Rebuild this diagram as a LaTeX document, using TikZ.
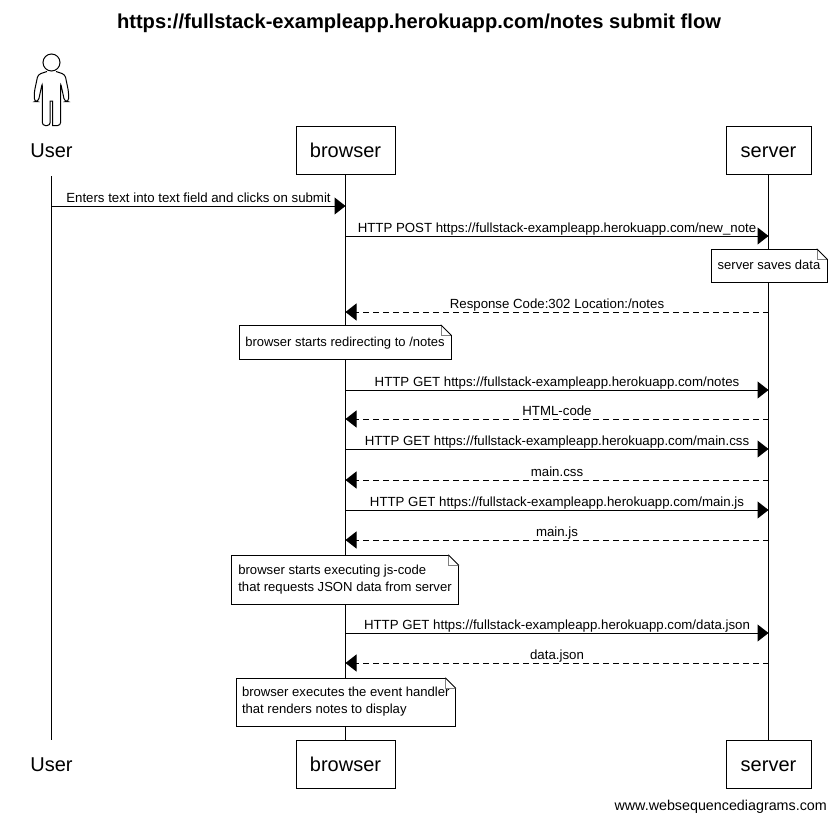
\documentclass[tikz,border=0pt]{standalone}
\usepackage{fontspec}
\setmainfont{Liberation Sans}
\usetikzlibrary{arrows.meta}
\tikzset{
    headtext/.style={inner sep=0pt, text height=17pt, text depth=3pt, font=\fontsize{20}{24}\selectfont},
    headbox/.style={headtext, draw, fill=white, line width=1pt, outer sep=0pt, minimum height=48pt},
    lifeline/.style={line width=1pt},
    msg/.style={line width=1pt, -{Triangle[length=11pt,width=17pt]}},
    reply/.style={msg, dash pattern=on 6pt off 4pt},
    msgtext/.style={midway, above, inner sep=0pt, yshift=0.3pt, text height=10pt, text depth=3pt, font=\fontsize{13.25}{15}\selectfont},
    notebox/.style={draw, fill=white, line width=1pt, outer sep=0pt, anchor=north west, align=left, inner xsep=6pt, inner ysep=0pt, font=\fontsize{13.1}{17}\selectfont},
    noteline/.style={notebox, text height=11pt, text depth=3pt, font=\fontsize{13}{17}\selectfont},
}
\newcommand{\foldcorner}[1]{
    \fill[white] ([xshift=-10pt,yshift=1pt]#1.north east) rectangle ([xshift=1pt,yshift=-10pt]#1.north east);
    \draw[line width=0.7pt, gray] ([xshift=-10pt]#1.north east) -- ([xshift=-10pt,yshift=-10pt]#1.north east) -- ([yshift=-10pt]#1.north east);
    \draw[line width=1pt] ([xshift=-10.5pt]#1.north east) -- ([xshift=-10pt]#1.north east) -- ([yshift=-10pt]#1.north east) -- ([yshift=-10.5pt]#1.north east);
}
\begin{document}
\begin{tikzpicture}[x=1pt, y=-1pt]
    \useasboundingbox (0, 0) rectangle (835, 822);
    \node[inner sep=0pt, font=\bfseries\fontsize{20.13}{24}\selectfont] (title) at (419, 23) {https://fullstack-exampleapp.herokuapp.com/notes submit flow};

    % heads
    \node[headtext] (userTop) at (51.5, 150.5) {User};
    \node[headbox, minimum width=99pt] (browserTop) at (345.5, 150.5) {browser};
    \node[headbox, minimum width=85pt] (serverTop) at (768.5, 150.5) {server};
    \node[headtext] (userBottom) at (51.5, 764) {User};
    \node[headbox, minimum width=99pt] (browserBottom) at (345.5, 764) {browser};
    \node[headbox, minimum width=85pt] (serverBottom) at (768.5, 764) {server};

    % actor
    \draw[line width=1pt] (51.5, 62.5) circle (8.5);
    \draw[line width=1pt, rounded corners=3pt]
        (47, 71.5) -- (38, 74.5) -- (34.3, 92) -- (34.3, 101.5) -- (38.3, 101.5) -- (42.3, 83)
        -- (42.3, 125.5) -- (50.2, 125.5) [sharp corners] -- (50.2, 101) -- (52.6, 101) -- (52.6, 125.5)
        [rounded corners=3pt] -- (60.6, 125.5)
        -- (60.6, 83) -- (64.6, 101.5) -- (68.6, 101.5) -- (68.6, 92) -- (65, 74.5) -- (56, 71.5);

    % lifelines
    \coordinate (userStart) at (51.5, 176);
    \coordinate (userEnd) at (51.5, 740);
    \draw[lifeline] (userStart) -- (userEnd);
    \draw[lifeline] (browserTop) -- (browserBottom);
    \draw[lifeline] (serverTop) -- (serverBottom);

    % message ends
    \coordinate (u0) at (51.5, 206);
    \coordinate (b0) at (345.5, 206);
    \foreach \n/\y in {1/236, 2/312, 3/390, 4/419, 5/449, 6/480, 7/510, 8/540, 9/633, 10/663} {
        \coordinate (b\n) at (345.5, \y);
        \coordinate (s\n) at (768.5, \y);
    }

    \draw[msg] (u0) -- node[msgtext] {Enters text into text field and clicks on submit} (b0);
    \draw[msg] (b1) -- node[msgtext] {HTTP POST https://fullstack-exampleapp.herokuapp.com/new\_note} (s1);
    \draw[reply] (s2) -- node[msgtext] {Response Code:302 Location:/notes} (b2);
    \draw[msg] (b3) -- node[msgtext] {HTTP GET https://fullstack-exampleapp.herokuapp.com/notes} (s3);
    \draw[reply] (s4) -- node[msgtext] {HTML-code} (b4);
    \draw[msg] (b5) -- node[msgtext] {HTTP GET https://fullstack-exampleapp.herokuapp.com/main.css} (s5);
    \draw[reply] (s6) -- node[msgtext] {main.css} (b6);
    \draw[msg] (b7) -- node[msgtext] {HTTP GET https://fullstack-exampleapp.herokuapp.com/main.js} (s7);
    \draw[reply] (s8) -- node[msgtext] {main.js} (b8);
    \draw[msg] (b9) -- node[msgtext] {HTTP GET https://fullstack-exampleapp.herokuapp.com/data.json} (s9);
    \draw[reply] (s10) -- node[msgtext] {data.json} (b10);

    % notes
    \node[noteline, minimum width=116pt, minimum height=33pt] (noteSaves) at (711, 249) {server saves data};
    \foldcorner{noteSaves}
    \node[noteline, minimum width=212pt, minimum height=34pt] (noteRedirect) at (239, 325) {browser starts redirecting to /notes};
    \foldcorner{noteRedirect}
    \node[notebox, minimum width=227pt, minimum height=49pt] (noteExec) at (231.5, 555) {browser starts executing js-code\\that requests JSON data from server};
    \foldcorner{noteExec}
    \node[notebox, minimum width=219pt, minimum height=48pt] (noteRender) at (236, 678) {browser executes the event handler\\that renders notes to display};
    \foldcorner{noteRender}

    \node[inner sep=0pt, anchor=east, font=\fontsize{14.3}{17}\selectfont] (credit) at (827, 807) {www.websequencediagrams.com};
\end{tikzpicture}
\end{document}
